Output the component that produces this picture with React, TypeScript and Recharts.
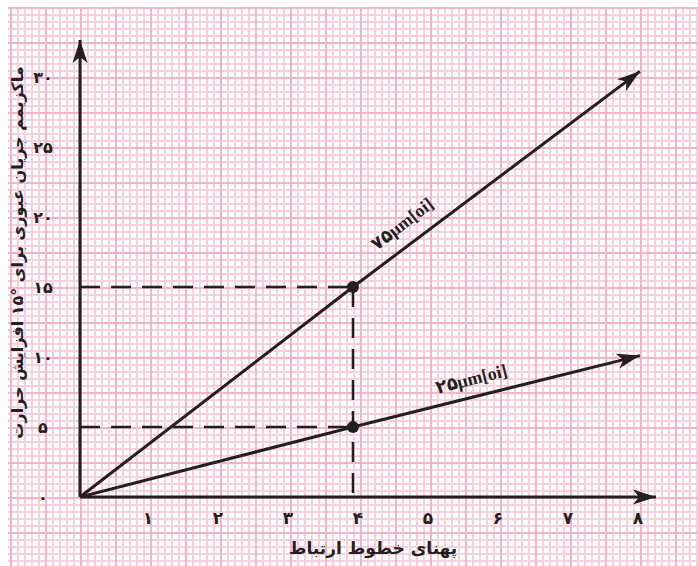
import { ComposedChart, Line, XAxis, YAxis, ReferenceLine, ReferenceDot } from 'recharts';

// values
const xTicks = [1, 2, 3, 4, 5, 6, 7, 8];
const yTicks = [0, 5, 10, 15, 20, 25, 30];
const wire75 = [
  { x: 0, y: 0 },
  { x: 3.9, y: 15 },
  { x: 8, y: 30.4 },
];
const wire25 = [
  { x: 0, y: 0 },
  { x: 3.9, y: 5 },
  { x: 8, y: 10.1 },
];
const markX = 3.9;
const markY = [15, 5];
const xLabel = 'پهنای خطوط ارتباط';
const yLabel = 'ماکزیمم جریان عبوری برای °۱۵ افزایش حرارت';
const label75 = { x: 4.62, y: 19.4, text: '۷۵μm[oi]', angle: -37.5 };
const label25 = { x: 5.6, y: 8.3, text: '۲۵μm[oi]', angle: -14.3 };

const INK = '#231f20';
const FA = "'DejaVu Sans', sans-serif";
const faDigits = '۰۱۲۳۴۵۶۷۸۹';
const toFa = (n: number) => String(n).replace(/\d/g, (d) => faDigits[+d]);

const arrowPath = 'M0,0 L-23,-7.5 L-17,0 L-23,7.5 Z';

function Arrow({ cx, cy, angle }: { cx: number; cy: number; angle: number }) {
  return <path d={arrowPath} fill={INK} transform={`translate(${cx},${cy}) rotate(${angle})`} />;
}

function lineDot(props: any) {
  const { cx, cy, index, points } = props;
  if (index === 1) return <circle key={`d${index}`} cx={cx} cy={cy} r={6} fill={INK} />;
  if (index === 2 && points && points[1]) {
    const p = points[1];
    const ang = (Math.atan2(cy - p.y, cx - p.x) * 180) / Math.PI;
    return <Arrow key={`d${index}`} cx={cx} cy={cy} angle={ang} />;
  }
  return <g key={`d${index}`} />;
}

function wireLabel(text: string, angle: number) {
  return (props: any) => (
    <text
      x={props.cx}
      y={props.cy}
      transform={`rotate(${angle},${props.cx},${props.cy})`}
      textAnchor="middle"
      dominantBaseline="middle"
      fontSize={18}
      fontWeight="bold"
      fontFamily="'Liberation Serif', 'DejaVu Sans', serif"
      fill={INK}
    >
      {text}
    </text>
  );
}

const gridBg = {
  backgroundColor: '#fff',
  backgroundImage: [
    'linear-gradient(to right, #f2b3cd 2px, transparent 2px)',
    'linear-gradient(to bottom, #f2b3cd 2px, transparent 2px)',
    'linear-gradient(to right, #f7cfdf 2px, transparent 2px)',
    'linear-gradient(to bottom, #f7cfdf 2px, transparent 2px)',
  ].join(','),
  backgroundSize: '35px 35px, 35px 35px, 7px 7px, 7px 7px',
  backgroundPosition: '2px 0, 0 0, 2px 0, 0 0',
};

export default function App() {
  return (
    <div style={{ position: 'absolute', left: 0, top: 0, width: 698, height: 566, background: '#fff' }}>
      <div style={{ position: 'absolute', left: 8, top: 7, width: 690, height: 559, ...gridBg }} />
      <div style={{ position: 'absolute', left: 0, top: 0 }}>
        <ComposedChart width={698} height={566} margin={{ top: 40, right: 42, bottom: 0, left: 0 }}>
          <XAxis
            type="number"
            dataKey="x"
            domain={[0, 8.23]}
            ticks={xTicks}
            tickLine={false}
            axisLine={{ stroke: INK, strokeWidth: 3 }}
            height={69}
            allowDataOverflow
            tick={(p: any) => (
              <text x={p.x - 2} y={p.y + 19} textAnchor="middle" fontSize={17} fontWeight="bold" fontFamily={FA} fill={INK}>
                {toFa(p.payload.value)}
              </text>
            )}
            label={{
              content: (p: any) => {
                const vb = p.viewBox;
                return (
                  <text
                    x={vb.x + vb.width / 2 + 5}
                    y={vb.y + vb.height - 12}
                    textAnchor="middle"
                    fontSize={17}
                    fontWeight="bold"
                    fontFamily={FA}
                    fill={INK}
                  >
                    {xLabel}
                  </text>
                );
              },
            }}
          />
          <YAxis
            type="number"
            domain={[0, 32.64]}
            ticks={yTicks}
            tickLine={false}
            axisLine={{ stroke: INK, strokeWidth: 3 }}
            width={80}
            allowDataOverflow
            tick={(p: any) => (
              <text x={p.x - 29} y={p.y + 6} textAnchor="middle" fontSize={16} fontWeight="bold" fontFamily={FA} fill={INK}>
                {toFa(p.payload.value)}
              </text>
            )}
            label={{
              content: (p: any) => {
                const vb = p.viewBox;
                const cx = vb.x + 18;
                const cy = vb.y + vb.height / 2 - 16;
                return (
                  <text
                    transform={`translate(${cx},${cy}) rotate(-90)`}
                    textAnchor="middle"
                    dominantBaseline="middle"
                    fontSize={16}
                    fontWeight="bold"
                    fontFamily={FA}
                    fill={INK}
                    direction="rtl"
                  >
                    {yLabel}
                  </text>
                );
              },
            }}
          />
          {markY.map((v) => (
            <ReferenceLine
              key={`h${v}`}
              segment={[{ x: 0, y: v }, { x: markX, y: v }]}
              stroke={INK}
              strokeWidth={2.5}
              strokeDasharray="20 11"
            />
          ))}
          <ReferenceLine
            segment={[{ x: markX, y: markY[0] }, { x: markX, y: 0 }]}
            stroke={INK}
            strokeWidth={2.5}
            strokeDasharray="20 11"
          />
          <Line data={wire75} dataKey="y" stroke={INK} strokeWidth={3} dot={lineDot} activeDot={false} isAnimationActive={false} />
          <Line data={wire25} dataKey="y" stroke={INK} strokeWidth={3} dot={lineDot} activeDot={false} isAnimationActive={false} />
          <ReferenceDot x={8.23} y={0} ifOverflow="visible" shape={(p: any) => <Arrow cx={p.cx} cy={p.cy} angle={0} />} />
          <ReferenceDot x={0} y={32.64} ifOverflow="visible" shape={(p: any) => <Arrow cx={p.cx} cy={p.cy} angle={-90} />} />
          <ReferenceDot x={label75.x} y={label75.y} ifOverflow="visible" shape={wireLabel(label75.text, label75.angle)} />
          <ReferenceDot x={label25.x} y={label25.y} ifOverflow="visible" shape={wireLabel(label25.text, label25.angle)} />
        </ComposedChart>
      </div>
    </div>
  );
}
